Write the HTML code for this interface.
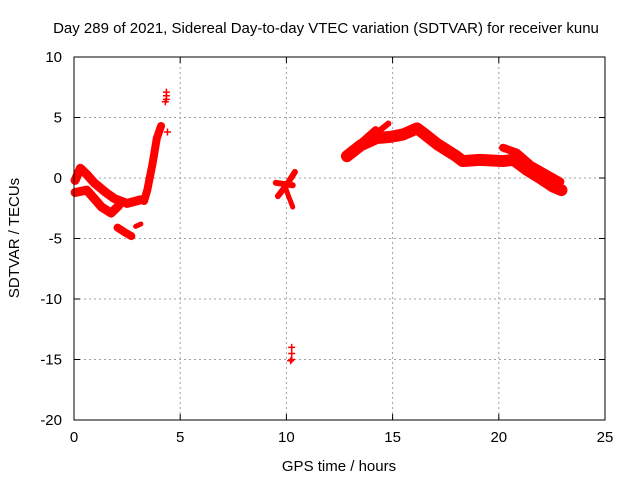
<!DOCTYPE html>
<html><head><meta charset="utf-8"><style>
body{margin:0;background:#fff}
svg{display:block;font-family:"Liberation Sans",sans-serif}
</style></head><body>
<svg id="chart" width="640" height="480">
<text x="326" y="33" font-size="15" text-anchor="middle">Day 289 of 2021, Sidereal Day-to-day VTEC variation (SDTVAR) for receiver kunu</text>
<text x="339" y="471" font-size="15" text-anchor="middle">GPS time / hours</text>
<text transform="translate(19,238) rotate(-90)" font-size="15" text-anchor="middle">SDTVAR / TECUs</text>
<g id="grid"></g><g id="ticks"></g><g id="data"></g>
<rect x="74" y="57" width="531" height="363" fill="none" stroke="#000" stroke-width="1"/>
</svg>
<script>
const xTicks=[0,5,10,15,20,25];
const yTicks=[10,5,0,-5,-10,-15,-20];
// tracks: [hours, value] pairs
const trackA=[[0.05,-0.2],[0.3,0.8],[0.6,0.3],[0.95,-0.4],[1.5,-1.2],[1.9,-1.7],[2.5,-2.1],[3.15,-1.8]];
const trackB=[[0.05,-1.2],[0.6,-1.0],[1.0,-1.8],[1.3,-2.4],[1.75,-2.9],[2.1,-2.3]];
const trackC=[[2.05,-4.1],[2.4,-4.5],[2.7,-4.8]];
const trackD=[[2.9,-4],[3.15,-3.8]];
const trackE=[[3.3,-1.9],[3.45,-1.0],[3.7,1.2],[3.9,3.3],[4.1,4.3]];
const trackF=[[9.5,-0.4],[10.3,-0.6]];
const trackG=[[9.6,-1.5],[10.0,-0.6],[10.4,0.5]];
const trackH=[[9.9,-0.5],[10.1,-1.5],[10.3,-2.4]];
const trackI=[[12.85,1.8],[13.5,2.7],[14.25,3.3],[14.9,3.4],[15.5,3.6],[16.15,4.1],[16.6,3.5],[17.1,2.8],[18.0,1.8],[18.3,1.4],[19.1,1.5],[20.2,1.4],[20.7,1.5],[21.3,0.7],[21.95,0.0],[22.55,-0.7],[22.95,-1.0]];
const trackJ=[[20.2,2.5],[20.85,2.1],[21.5,1.1],[22.6,0.0],[22.9,-0.3]];
const trackK=[[13.3,2.6],[14.2,4.0]];
const trackL=[[13.8,3.1],[14.8,4.5]];
const tracks=[trackA,trackB,trackC,trackD,trackE,trackF,trackG,trackH,trackI,trackJ,trackK,trackL];
const trackWidths=[9,9,8,5,8,6,6,5,12,8,7,6];
const markHours=[4.35,4.35,4.35,4.3,4.4,10.25,10.25,10.25,10.2,22.8];
const markValues=[7.1,6.8,6.5,6.3,3.8,-14,-14.5,-15,-15.1,-0.5];
const X=h=>74+h*531/25;
const Y=v=>57+(10-v)*363/30;
const NS="http://www.w3.org/2000/svg";
const grid=document.getElementById('grid'),ticks=document.getElementById('ticks'),data=document.getElementById('data');
function mk(tag,attrs,parent){const e=document.createElementNS(NS,tag);for(const k in attrs)e.setAttribute(k,attrs[k]);parent.appendChild(e);return e;}
xTicks.forEach(t=>{
 if(t>0&&t<25){const g=mk('line',{x1:X(t),x2:X(t),y1:57,y2:420,stroke:'#a0a0a0','stroke-dasharray':'2,3'},grid);
 
 }
 mk('line',{x1:X(t),x2:X(t),y1:420,y2:414,stroke:'#000'},ticks);
 mk('line',{x1:X(t),x2:X(t),y1:57,y2:63,stroke:'#000'},ticks);
 const l=mk('text',{x:X(t),y:442,'font-size':15,'text-anchor':'middle'},ticks);l.textContent=t;
 
 
});
yTicks.forEach(t=>{
 if(t>-20&&t<10){const g=mk('line',{x1:74,x2:605,y1:Y(t),y2:Y(t),stroke:'#a0a0a0','stroke-dasharray':'2,3'},grid);
 
 }
 mk('line',{x1:74,x2:80,y1:Y(t),y2:Y(t),stroke:'#000'},ticks);
 mk('line',{x1:605,x2:599,y1:Y(t),y2:Y(t),stroke:'#000'},ticks);
 const l=mk('text',{x:62,y:Y(t)+5,'font-size':15,'text-anchor':'end'},ticks);l.textContent=t;
 
 
});
tracks.forEach((tr,i)=>{
 const p=mk('polyline',{points:tr.map(d=>X(d[0])+','+Y(d[1])).join(' '),fill:'none',stroke:'#ff0000','stroke-width':trackWidths[i],'stroke-linejoin':'round','stroke-linecap':'round'},data);
 
 
});
markHours.forEach((h,i)=>{
 const x=X(h),y=Y(markValues[i]);
 const p=mk('path',{d:`M${x-3.5},${y}H${x+3.5}M${x},${y-3.5}V${y+3.5}`,stroke:'#ff0000','stroke-width':1.5},data);
 
 
});
</script>
</body></html>
